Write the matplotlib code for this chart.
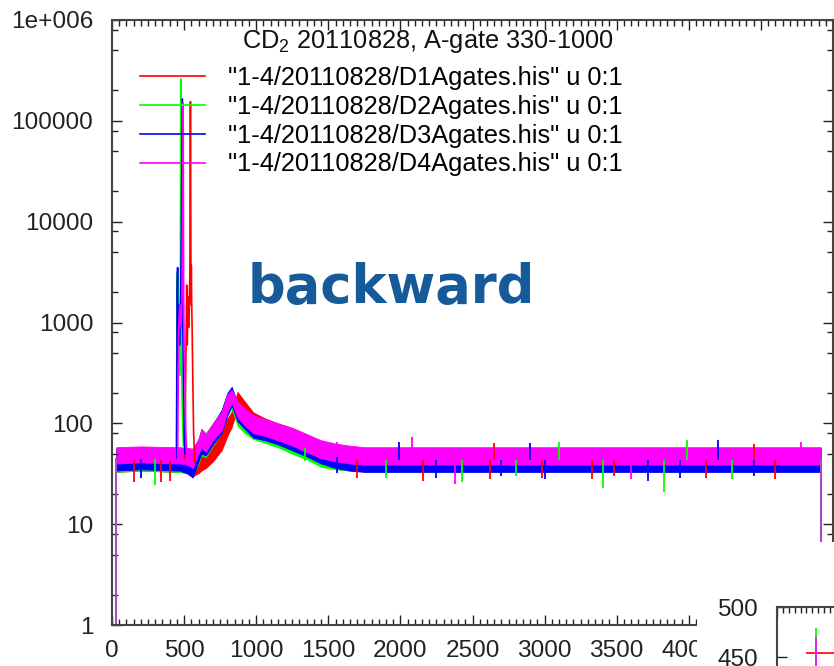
import numpy as np
import matplotlib.pyplot as plt
from matplotlib.patches import Rectangle
from matplotlib.ticker import FixedLocator, FixedFormatter, MultipleLocator
from matplotlib.lines import Line2D

plt.rcParams['font.family'] = ['Liberation Sans', 'DejaVu Sans']
plt.rcParams['mathtext.fontset'] = 'custom'
plt.rcParams['mathtext.rm'] = 'Liberation Sans'

# ---- data ----
labels = ['"1-4/20110828/D1Agates.his" u 0:1',
          '"1-4/20110828/D2Agates.his" u 0:1',
          '"1-4/20110828/D3Agates.his" u 0:1',
          '"1-4/20110828/D4Agates.his" u 0:1']
colors = ['#ff0000', '#00ff00', '#0000ff', '#ff00ff']

# noise band (low / high counts) of each spectrum
band_ch = [30, 200, 440, 470, 520, 560, 600, 620, 650, 700, 760, 800, 830, 870,
           920, 980, 1060, 1150, 1250, 1350, 1450, 1550, 1650, 1750, 2500, 3200,
           4000, 4915]
d1_low = [33, 34, 33, 33, 32, 30, 32, 34, 36, 42, 54, 75, 92, 140, 110, 85, 72,
          64, 56, 48, 42, 36, 34, 33.5, 33.5, 33.5, 33.5, 33.5]
d1_high = [55, 56, 55, 56, 57, 55, 50, 54, 60, 72, 90, 112, 130, 205, 165, 128,
           112, 100, 90, 78, 66, 60, 57, 56, 56, 55, 56, 55]
d2_low = [33, 34, 33, 33, 32, 30, 40, 48, 46, 60, 80, 120, 140, 95, 80, 70, 64,
          58, 50, 44, 37, 35, 34, 33.5, 33.5, 33.5, 33.5, 33.5]
d2_high = [57, 58, 57, 57, 56, 56, 70, 88, 80, 100, 135, 200, 220, 150, 130, 115,
           104, 95, 84, 72, 64, 60, 57, 57, 57, 57, 57, 57]
d3_low = [34, 35, 34, 34, 32, 29, 42, 50, 48, 62, 80, 120, 150, 105, 88, 72, 68,
          62, 54, 47, 40, 36, 34, 33, 33, 33, 33, 33]
d3_high = [56, 57, 56, 57, 56, 55, 68, 86, 76, 98, 135, 200, 230, 160, 135, 118,
           106, 97, 86, 75, 65, 60, 57, 57, 57, 56, 57, 56]
d4_low = [40, 41, 40, 40, 39, 36, 50, 58, 52, 68, 85, 130, 160, 115, 95, 80, 75,
          68, 60, 52, 45, 42, 40, 39, 39, 39, 39, 39]
d4_high = [58, 59, 58, 58, 57, 56, 70, 88, 78, 100, 130, 195, 215, 165, 140, 120,
           110, 100, 90, 78, 68, 63, 60, 58, 58, 58, 58, 58]
lows = [d1_low, d2_low, d3_low, d4_low]
highs = [d1_high, d2_high, d3_high, d4_high]

# sharp lines near channel 450-560
d1_peak_ch = [505, 512, 518, 522, 528, 534, 540, 544, 548, 550, 553, 556, 560, 566, 575]
d1_peak = [45, 400, 2350, 600, 1800, 900, 3000, 155000, 1500, 3700, 1450, 800, 300, 80, 40]
d2_peak_ch = [446, 450, 452, 455, 458, 462, 466, 470, 474, 477, 480, 484, 488, 495]
d2_peak = [45, 900, 3100, 200, 2800, 500, 1200, 300, 1500, 260000, 1000, 300, 120, 60]
d3_peak_ch = [448, 452, 455, 458, 462, 470, 478, 488, 491, 495, 500, 505]
d3_peak = [45, 2000, 3500, 400, 1500, 600, 2500, 165000, 900, 300, 80, 50]
d4_peak_ch = [455, 462, 470, 480, 486, 493, 497, 500, 505, 512, 520]
d4_peak = [45, 800, 1500, 900, 2000, 150000, 1960, 600, 300, 80, 45]
peak_chs = [d1_peak_ch, d2_peak_ch, d3_peak_ch, d4_peak_ch]
peaks = [d1_peak, d2_peak, d3_peak, d4_peak]

# single noise spikes of each spectrum (channel, counts)
d1_spike_ch = [150, 340, 400, 1700, 2160, 2620, 2650, 2980, 3330, 3480,
               4120, 4450, 4600]
d1_spike = [26, 26, 27, 29, 27, 28, 64, 29, 28, 30, 29, 63, 28]
d2_spike_ch = [300, 640, 1340, 1900, 2430, 2800, 3100, 3403, 3826, 3990, 4300]
d2_spike = [24.5, 62, 42, 29, 26, 30, 66, 23, 21, 68, 28]
d3_spike_ch = [200, 1560, 1990, 2250, 2700, 2900, 3000, 3715, 3940, 4200, 4450]
d3_spike = [29, 32, 66, 29, 30, 64, 28, 27, 29, 68, 30]
d4_spike_ch = [1560, 2083, 2382, 3600, 4780]
d4_spike = [66, 73, 25, 28, 65]
spike_chs = [d1_spike_ch, d2_spike_ch, d3_spike_ch, d4_spike_ch]
spikes = [d1_spike, d2_spike, d3_spike, d4_spike]

edge_ch = [30, 4915]     # spectrum start / end channels

xticks = [0, 500, 1000, 1500, 2000, 2500, 3000, 3500, 4000, 4500, 5000]
yticks = [1, 10, 100, 1000, 10000, 100000, 1000000]
ytick_labels = ['1', '10', '100', '1000', '10000', '100000', '1e+006']

# inset (partly visible)
inset_x = [75, 66, 66.5, 66]
inset_y = [454, 455, 447, 450]
inset_xerr = [25, 0, 0, 0]
inset_yerr = [0, 24, 15, 20]
inset_colors = ['#ff0000', '#00ee00', '#33ccff', '#ff00ff']

# ---- figure ----
fig = plt.figure(figsize=(8.34, 6.66), dpi=100)
ax = fig.add_axes([112 / 834, 41 / 666, 721 / 834, 605 / 666])

for i in range(4):
    ax.fill_between(band_ch, lows[i], highs[i], color=colors[i], lw=0.6,
                    edgecolor=colors[i])
    ax.plot(peak_chs[i], peaks[i], color=colors[i], lw=1.2)
    base = np.interp(spike_chs[i], band_ch,
                     np.sqrt(np.array(lows[i]) * np.array(highs[i])))
    ax.vlines(spike_chs[i], base, spikes[i], color=colors[i], lw=1.3)

ax.vlines(edge_ch, 0.5, 45, color='#a64ac9', lw=1.5)

ax.set_yscale('log')
ax.set_xlim(0, 5000)
ax.set_ylim(1, 1e6)
ax.xaxis.set_major_locator(FixedLocator(xticks))
ax.xaxis.set_minor_locator(MultipleLocator(50))
ax.yaxis.set_major_locator(FixedLocator(yticks))
ax.yaxis.set_major_formatter(FixedFormatter(ytick_labels))
ax.yaxis.set_minor_locator(FixedLocator([m * 10.0 ** e for e in range(0, 6)
                                         for m in (2, 5, 8)]))
ax.yaxis.set_minor_formatter(FixedFormatter([]))
ax.tick_params(which='both', direction='in', top=True, right=True,
               labelsize=17.6, colors='#222222', width=1)
ax.tick_params(which='major', length=7)
ax.tick_params(which='minor', length=4)
ax.tick_params(axis='y', pad=13.5)
ax.tick_params(axis='x', pad=11)
for s in ax.spines.values():
    s.set_color('#444444')
    s.set_linewidth(1.5)

handles = [Line2D([], [], color=c, lw=1.2) for c in colors]
fig.legend(handles, labels, loc='upper left', bbox_to_anchor=(140 / 834, 1 - 66 / 666),
           frameon=False, fontsize=18.3, handlelength=2.55, handletextpad=0.9,
           labelspacing=0.19, borderpad=0, borderaxespad=0)

fig.text(428 / 834, 1 - 48 / 666, r'CD$_\mathregular{2}$ 20110828, A-gate 330-1000',
         ha='center', va='baseline', fontsize=18.3, color='#111111')

fig.text(248 / 834, 1 - 303 / 666, 'backward', family='DejaVu Sans',
         fontweight='bold', fontsize=38, color='#165a99', va='baseline')

# white panel of the inset covering the lower right corner
fig.patches.append(Rectangle((697 / 834, 0), 137 / 834, 124 / 666,
                             transform=fig.transFigure, facecolor='white',
                             edgecolor='none', zorder=5))

ins = fig.add_axes([777 / 834, -100 / 666, 200 / 834, 159 / 666])
ins.set_zorder(6)
for i in range(4):
    ins.errorbar(inset_x[i], inset_y[i], xerr=inset_xerr[i], yerr=inset_yerr[i],
                 color=inset_colors[i], lw=1.2, fmt='none')
ins.set_xlim(0, 340)
ins.set_ylim(341, 500)
ins.set_yticks([400, 450, 500])
ins.xaxis.set_major_locator(MultipleLocator(100))
ins.xaxis.set_minor_locator(MultipleLocator(10))
ins.tick_params(which='both', direction='in', top=True, right=True,
                labelbottom=False, labelsize=17.6, colors='#222222', width=1)
ins.tick_params(which='major', length=7)
ins.tick_params(which='minor', length=4)
ins.tick_params(axis='y', pad=13.5)
for s in ins.spines.values():
    s.set_color('#444444')
    s.set_linewidth(1.5)

fig.savefig('out.png', dpi=100)
